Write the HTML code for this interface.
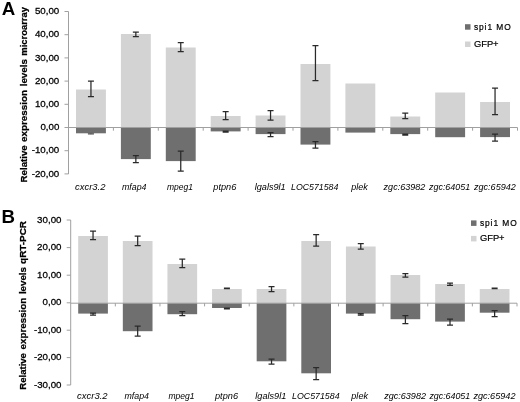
<!DOCTYPE html>
<html><head><meta charset="utf-8"><title>Relative expression levels</title>
<style>html,body{margin:0;padding:0;background:#fff}svg{display:block}text{font-family:"Liberation Sans",sans-serif}</style>
</head><body>
<svg width="520" height="402" viewBox="0 0 520 402">
<rect width="520" height="402" fill="#fff"/>
<g>
<rect x="76.00" y="89.50" width="29.9" height="38.00" fill="#d3d3d3"/>
<rect x="76.00" y="127.50" width="29.9" height="5.80" fill="#6f6f6f"/>
<rect x="120.90" y="34.00" width="29.9" height="93.50" fill="#d3d3d3"/>
<rect x="120.90" y="127.50" width="29.9" height="31.60" fill="#6f6f6f"/>
<rect x="165.80" y="47.50" width="29.9" height="80.00" fill="#d3d3d3"/>
<rect x="165.80" y="127.50" width="29.9" height="33.60" fill="#6f6f6f"/>
<rect x="210.70" y="116.00" width="29.9" height="11.50" fill="#d3d3d3"/>
<rect x="210.70" y="127.50" width="29.9" height="3.90" fill="#6f6f6f"/>
<rect x="255.60" y="115.50" width="29.9" height="12.00" fill="#d3d3d3"/>
<rect x="255.60" y="127.50" width="29.9" height="6.60" fill="#6f6f6f"/>
<rect x="300.50" y="64.00" width="29.9" height="63.50" fill="#d3d3d3"/>
<rect x="300.50" y="127.50" width="29.9" height="17.10" fill="#6f6f6f"/>
<rect x="345.40" y="83.50" width="29.9" height="44.00" fill="#d3d3d3"/>
<rect x="345.40" y="127.50" width="29.9" height="5.10" fill="#6f6f6f"/>
<rect x="390.30" y="116.50" width="29.9" height="11.00" fill="#d3d3d3"/>
<rect x="390.30" y="127.50" width="29.9" height="6.60" fill="#6f6f6f"/>
<rect x="435.20" y="92.50" width="29.9" height="35.00" fill="#d3d3d3"/>
<rect x="435.20" y="127.50" width="29.9" height="9.70" fill="#6f6f6f"/>
<rect x="480.10" y="102.00" width="29.9" height="25.50" fill="#d3d3d3"/>
<rect x="480.10" y="127.50" width="29.9" height="9.60" fill="#6f6f6f"/>
<path d="M68.5 11.5V174" stroke="#a0a0a0" stroke-width="1" fill="none"/>
<path d="M68.5 127.5H517.5" stroke="#a0a0a0" stroke-width="1" fill="none"/>
<path d="M64.5 11.5H68.5" stroke="#a0a0a0" stroke-width="1"/>
<text x="59.3" y="14.1" text-anchor="end" font-size="9.6" fill="#000" stroke="#000" stroke-width="0.26" textLength="24.4" lengthAdjust="spacingAndGlyphs">50,00</text>
<path d="M64.5 34.7H68.5" stroke="#a0a0a0" stroke-width="1"/>
<text x="59.3" y="37.300000000000004" text-anchor="end" font-size="9.6" fill="#000" stroke="#000" stroke-width="0.26" textLength="24.4" lengthAdjust="spacingAndGlyphs">40,00</text>
<path d="M64.5 57.9H68.5" stroke="#a0a0a0" stroke-width="1"/>
<text x="59.3" y="60.5" text-anchor="end" font-size="9.6" fill="#000" stroke="#000" stroke-width="0.26" textLength="24.4" lengthAdjust="spacingAndGlyphs">30,00</text>
<path d="M64.5 81.1H68.5" stroke="#a0a0a0" stroke-width="1"/>
<text x="59.3" y="83.69999999999999" text-anchor="end" font-size="9.6" fill="#000" stroke="#000" stroke-width="0.26" textLength="24.4" lengthAdjust="spacingAndGlyphs">20,00</text>
<path d="M64.5 104.3H68.5" stroke="#a0a0a0" stroke-width="1"/>
<text x="59.3" y="106.89999999999999" text-anchor="end" font-size="9.6" fill="#000" stroke="#000" stroke-width="0.26" textLength="24.4" lengthAdjust="spacingAndGlyphs">10,00</text>
<path d="M64.5 127.5H68.5" stroke="#a0a0a0" stroke-width="1"/>
<text x="59.3" y="130.1" text-anchor="end" font-size="9.6" fill="#000" stroke="#000" stroke-width="0.26" textLength="18.9" lengthAdjust="spacingAndGlyphs">0,00</text>
<path d="M64.5 150.7H68.5" stroke="#a0a0a0" stroke-width="1"/>
<text x="59.3" y="153.29999999999998" text-anchor="end" font-size="9.6" fill="#000" stroke="#000" stroke-width="0.26" textLength="27.6" lengthAdjust="spacingAndGlyphs">-10,00</text>
<path d="M64.5 173.9H68.5" stroke="#a0a0a0" stroke-width="1"/>
<text x="59.3" y="176.5" text-anchor="end" font-size="9.6" fill="#000" stroke="#000" stroke-width="0.26" textLength="27.6" lengthAdjust="spacingAndGlyphs">-20,00</text>
<path d="M113.40 127.5v3.2" stroke="#a0a0a0" stroke-width="1"/>
<path d="M158.30 127.5v3.2" stroke="#a0a0a0" stroke-width="1"/>
<path d="M203.20 127.5v3.2" stroke="#a0a0a0" stroke-width="1"/>
<path d="M248.10 127.5v3.2" stroke="#a0a0a0" stroke-width="1"/>
<path d="M293.00 127.5v3.2" stroke="#a0a0a0" stroke-width="1"/>
<path d="M337.90 127.5v3.2" stroke="#a0a0a0" stroke-width="1"/>
<path d="M382.80 127.5v3.2" stroke="#a0a0a0" stroke-width="1"/>
<path d="M427.70 127.5v3.2" stroke="#a0a0a0" stroke-width="1"/>
<path d="M472.60 127.5v3.2" stroke="#a0a0a0" stroke-width="1"/>
<path d="M517.50 127.5v3.2" stroke="#a0a0a0" stroke-width="1"/>
<path d="M90.95 81V96.5M87.95 81h6M87.95 96.5h6" stroke="#2a2a2a" stroke-width="1.25" fill="none"/>
<path d="M90.95 133.4V134.2M87.95 133.4h6M87.95 134.2h6" stroke="#444" stroke-width="0.7" fill="none"/>
<path d="M135.85 32V36.5M132.85 32h6M132.85 36.5h6" stroke="#2a2a2a" stroke-width="1.25" fill="none"/>
<path d="M135.85 155.5V162.5M132.85 155.5h6M132.85 162.5h6" stroke="#2a2a2a" stroke-width="1.25" fill="none"/>
<path d="M180.75 42.5V51.5M177.75 42.5h6M177.75 51.5h6" stroke="#2a2a2a" stroke-width="1.25" fill="none"/>
<path d="M180.75 151V171M177.75 151h6M177.75 171h6" stroke="#2a2a2a" stroke-width="1.25" fill="none"/>
<path d="M225.65 111.5V119.5M222.65 111.5h6M222.65 119.5h6" stroke="#2a2a2a" stroke-width="1.25" fill="none"/>
<path d="M225.65 131V132M222.65 131h6M222.65 132h6" stroke="#2a2a2a" stroke-width="1.25" fill="none"/>
<path d="M270.55 110.5V120M267.55 110.5h6M267.55 120h6" stroke="#2a2a2a" stroke-width="1.25" fill="none"/>
<path d="M270.55 132.5V136.5M267.55 132.5h6M267.55 136.5h6" stroke="#2a2a2a" stroke-width="1.25" fill="none"/>
<path d="M315.45 45.5V80.5M312.45 45.5h6M312.45 80.5h6" stroke="#2a2a2a" stroke-width="1.25" fill="none"/>
<path d="M315.45 141.5V148M312.45 141.5h6M312.45 148h6" stroke="#2a2a2a" stroke-width="1.25" fill="none"/>
<path d="M405.25 113.2V118.5M402.25 113.2h6M402.25 118.5h6" stroke="#2a2a2a" stroke-width="1.25" fill="none"/>
<path d="M405.25 134V135M402.25 134h6M402.25 135h6" stroke="#2a2a2a" stroke-width="1.25" fill="none"/>
<path d="M495.05 88V114.5M492.05 88h6M492.05 114.5h6" stroke="#2a2a2a" stroke-width="1.25" fill="none"/>
<path d="M495.05 134V141M492.05 134h6M492.05 141h6" stroke="#2a2a2a" stroke-width="1.25" fill="none"/>
<text x="75" y="190.4" font-size="9.3" font-style="italic" textLength="30.5" lengthAdjust="spacingAndGlyphs" fill="#000">cxcr3.2</text>
<text x="122" y="190.4" font-size="9.3" font-style="italic" textLength="24.5" lengthAdjust="spacingAndGlyphs" fill="#000">mfap4</text>
<text x="167" y="190.4" font-size="9.3" font-style="italic" textLength="26" lengthAdjust="spacingAndGlyphs" fill="#000">mpeg1</text>
<text x="213.3" y="190.4" font-size="9.3" font-style="italic" textLength="23.0" lengthAdjust="spacingAndGlyphs" fill="#000">ptpn6</text>
<text x="254.7" y="190.4" font-size="9.3" font-style="italic" textLength="31.0" lengthAdjust="spacingAndGlyphs" fill="#000">lgals9l1</text>
<text x="291" y="190.4" font-size="9.3" font-style="italic" textLength="47.39999999999998" lengthAdjust="spacingAndGlyphs" fill="#000">LOC571584</text>
<text x="351.3" y="190.4" font-size="9.3" font-style="italic" textLength="16.5" lengthAdjust="spacingAndGlyphs" fill="#000">plek</text>
<text x="383.6" y="190.4" font-size="9.3" font-style="italic" textLength="41.799999999999955" lengthAdjust="spacingAndGlyphs" fill="#000">zgc:63982</text>
<text x="429" y="190.4" font-size="9.3" font-style="italic" textLength="41.19999999999999" lengthAdjust="spacingAndGlyphs" fill="#000">zgc:64051</text>
<text x="474" y="190.4" font-size="9.3" font-style="italic" textLength="41.799999999999955" lengthAdjust="spacingAndGlyphs" fill="#000">zgc:65942</text>
<text transform="translate(26.5 182.4) rotate(-90)" font-size="9.7" font-weight="bold" stroke="#000" stroke-width="0.25" textLength="37.1" lengthAdjust="spacingAndGlyphs" fill="#000">Relative</text>
<text transform="translate(26.5 142.1) rotate(-90)" font-size="9.7" font-weight="bold" stroke="#000" stroke-width="0.25" textLength="52.2" lengthAdjust="spacingAndGlyphs" fill="#000">expression</text>
<text transform="translate(26.5 86.3) rotate(-90)" font-size="9.7" font-weight="bold" stroke="#000" stroke-width="0.25" textLength="27.1" lengthAdjust="spacingAndGlyphs" fill="#000">levels</text>
<text transform="translate(26.5 55.7) rotate(-90)" font-size="9.7" font-weight="bold" stroke="#000" stroke-width="0.25" textLength="48.7" lengthAdjust="spacingAndGlyphs" fill="#000">microarray</text>
<text x="1.7" y="14.5" font-size="18" font-weight="bold" fill="#000" textLength="13.5" lengthAdjust="spacingAndGlyphs">A</text>
<rect x="465" y="24.2" width="5.5" height="5.5" fill="#6f6f6f"/>
<rect x="465" y="41.5" width="5.5" height="5.5" fill="#d3d3d3"/>
<text x="473.9" y="29.799999999999997" font-size="8.4" textLength="36.8" lengthAdjust="spacing" fill="#000" stroke="#000" stroke-width="0.2">spi1 MO</text>
<text x="473.9" y="47.0" font-size="9.4" fill="#000" stroke="#000" stroke-width="0.2" textLength="24.7" lengthAdjust="spacingAndGlyphs">GFP+</text>
</g>
<g>
<rect x="78.20" y="236.00" width="29.7" height="67.20" fill="#d3d3d3"/>
<rect x="78.20" y="303.20" width="29.7" height="10.40" fill="#6f6f6f"/>
<rect x="122.82" y="241.00" width="29.7" height="62.20" fill="#d3d3d3"/>
<rect x="122.82" y="303.20" width="29.7" height="28.00" fill="#6f6f6f"/>
<rect x="167.44" y="264.00" width="29.7" height="39.20" fill="#d3d3d3"/>
<rect x="167.44" y="303.20" width="29.7" height="11.00" fill="#6f6f6f"/>
<rect x="212.06" y="289.00" width="29.7" height="14.20" fill="#d3d3d3"/>
<rect x="212.06" y="303.20" width="29.7" height="4.80" fill="#6f6f6f"/>
<rect x="256.68" y="289.00" width="29.7" height="14.20" fill="#d3d3d3"/>
<rect x="256.68" y="303.20" width="29.7" height="58.10" fill="#6f6f6f"/>
<rect x="301.30" y="241.00" width="29.7" height="62.20" fill="#d3d3d3"/>
<rect x="301.30" y="303.20" width="29.7" height="70.10" fill="#6f6f6f"/>
<rect x="345.92" y="246.50" width="29.7" height="56.70" fill="#d3d3d3"/>
<rect x="345.92" y="303.20" width="29.7" height="10.40" fill="#6f6f6f"/>
<rect x="390.54" y="275.00" width="29.7" height="28.20" fill="#d3d3d3"/>
<rect x="390.54" y="303.20" width="29.7" height="16.00" fill="#6f6f6f"/>
<rect x="435.16" y="284.00" width="29.7" height="19.20" fill="#d3d3d3"/>
<rect x="435.16" y="303.20" width="29.7" height="18.40" fill="#6f6f6f"/>
<rect x="479.78" y="289.00" width="29.7" height="14.20" fill="#d3d3d3"/>
<rect x="479.78" y="303.20" width="29.7" height="9.50" fill="#6f6f6f"/>
<path d="M70.7 220V385" stroke="#a0a0a0" stroke-width="1" fill="none"/>
<path d="M70.7 303.2H517" stroke="#a0a0a0" stroke-width="1" fill="none"/>
<path d="M66.7 220H70.7" stroke="#a0a0a0" stroke-width="1"/>
<text x="61.5" y="222.6" text-anchor="end" font-size="9.6" fill="#000" stroke="#000" stroke-width="0.26" textLength="24.4" lengthAdjust="spacingAndGlyphs">30,00</text>
<path d="M66.7 247.6H70.7" stroke="#a0a0a0" stroke-width="1"/>
<text x="61.5" y="250.2" text-anchor="end" font-size="9.6" fill="#000" stroke="#000" stroke-width="0.26" textLength="24.4" lengthAdjust="spacingAndGlyphs">20,00</text>
<path d="M66.7 275.2H70.7" stroke="#a0a0a0" stroke-width="1"/>
<text x="61.5" y="277.8" text-anchor="end" font-size="9.6" fill="#000" stroke="#000" stroke-width="0.26" textLength="24.4" lengthAdjust="spacingAndGlyphs">10,00</text>
<path d="M66.7 302.8H70.7" stroke="#a0a0a0" stroke-width="1"/>
<text x="61.5" y="305.40000000000003" text-anchor="end" font-size="9.6" fill="#000" stroke="#000" stroke-width="0.26" textLength="18.9" lengthAdjust="spacingAndGlyphs">0,00</text>
<path d="M66.7 330.2H70.7" stroke="#a0a0a0" stroke-width="1"/>
<text x="61.5" y="332.8" text-anchor="end" font-size="9.6" fill="#000" stroke="#000" stroke-width="0.26" textLength="27.6" lengthAdjust="spacingAndGlyphs">-10,00</text>
<path d="M66.7 357.6H70.7" stroke="#a0a0a0" stroke-width="1"/>
<text x="61.5" y="360.20000000000005" text-anchor="end" font-size="9.6" fill="#000" stroke="#000" stroke-width="0.26" textLength="27.6" lengthAdjust="spacingAndGlyphs">-20,00</text>
<path d="M66.7 385H70.7" stroke="#a0a0a0" stroke-width="1"/>
<text x="61.5" y="387.6" text-anchor="end" font-size="9.6" fill="#000" stroke="#000" stroke-width="0.26" textLength="27.6" lengthAdjust="spacingAndGlyphs">-30,00</text>
<path d="M115.33 303.2v3.2" stroke="#a0a0a0" stroke-width="1"/>
<path d="M159.96 303.2v3.2" stroke="#a0a0a0" stroke-width="1"/>
<path d="M204.59 303.2v3.2" stroke="#a0a0a0" stroke-width="1"/>
<path d="M249.22 303.2v3.2" stroke="#a0a0a0" stroke-width="1"/>
<path d="M293.85 303.2v3.2" stroke="#a0a0a0" stroke-width="1"/>
<path d="M338.48 303.2v3.2" stroke="#a0a0a0" stroke-width="1"/>
<path d="M383.11 303.2v3.2" stroke="#a0a0a0" stroke-width="1"/>
<path d="M427.74 303.2v3.2" stroke="#a0a0a0" stroke-width="1"/>
<path d="M472.37 303.2v3.2" stroke="#a0a0a0" stroke-width="1"/>
<path d="M517.00 303.2v3.2" stroke="#a0a0a0" stroke-width="1"/>
<path d="M93.05 231V239.5M90.05 231h6M90.05 239.5h6" stroke="#2a2a2a" stroke-width="1.25" fill="none"/>
<path d="M93.05 313V315M90.05 313h6M90.05 315h6" stroke="#2a2a2a" stroke-width="1.25" fill="none"/>
<path d="M137.67 236V245.5M134.67 236h6M134.67 245.5h6" stroke="#2a2a2a" stroke-width="1.25" fill="none"/>
<path d="M137.67 326V336M134.67 326h6M134.67 336h6" stroke="#2a2a2a" stroke-width="1.25" fill="none"/>
<path d="M182.29 259V267.5M179.29 259h6M179.29 267.5h6" stroke="#2a2a2a" stroke-width="1.25" fill="none"/>
<path d="M182.29 311.5V315.5M179.29 311.5h6M179.29 315.5h6" stroke="#2a2a2a" stroke-width="1.25" fill="none"/>
<path d="M226.91 288V288.6M223.91 288h6M223.91 288.6h6" stroke="#2a2a2a" stroke-width="1.25" fill="none"/>
<path d="M226.91 308.2V308.8M223.91 308.2h6M223.91 308.8h6" stroke="#2a2a2a" stroke-width="1.25" fill="none"/>
<path d="M271.53 286.5V291.5M268.53 286.5h6M268.53 291.5h6" stroke="#2a2a2a" stroke-width="1.25" fill="none"/>
<path d="M271.53 359V364M268.53 359h6M268.53 364h6" stroke="#2a2a2a" stroke-width="1.25" fill="none"/>
<path d="M316.15 234.5V246M313.15 234.5h6M313.15 246h6" stroke="#2a2a2a" stroke-width="1.25" fill="none"/>
<path d="M316.15 367.5V379.5M313.15 367.5h6M313.15 379.5h6" stroke="#2a2a2a" stroke-width="1.25" fill="none"/>
<path d="M360.77 243.5V249M357.77 243.5h6M357.77 249h6" stroke="#2a2a2a" stroke-width="1.25" fill="none"/>
<path d="M360.77 313.5V315M357.77 313.5h6M357.77 315h6" stroke="#2a2a2a" stroke-width="1.25" fill="none"/>
<path d="M405.39 273.5V277M402.39 273.5h6M402.39 277h6" stroke="#2a2a2a" stroke-width="1.25" fill="none"/>
<path d="M405.39 315.5V323.5M402.39 315.5h6M402.39 323.5h6" stroke="#2a2a2a" stroke-width="1.25" fill="none"/>
<path d="M450.01 283V285.3M447.01 283h6M447.01 285.3h6" stroke="#2a2a2a" stroke-width="1.25" fill="none"/>
<path d="M450.01 319V325M447.01 319h6M447.01 325h6" stroke="#2a2a2a" stroke-width="1.25" fill="none"/>
<path d="M494.63 288V288.6M491.63 288h6M491.63 288.6h6" stroke="#2a2a2a" stroke-width="1.25" fill="none"/>
<path d="M494.63 310.5V316.5M491.63 310.5h6M491.63 316.5h6" stroke="#2a2a2a" stroke-width="1.25" fill="none"/>
<text x="77" y="398.8" font-size="9.3" font-style="italic" textLength="30.599999999999994" lengthAdjust="spacingAndGlyphs" fill="#000">cxcr3.2</text>
<text x="124.5" y="398.8" font-size="9.3" font-style="italic" textLength="24.5" lengthAdjust="spacingAndGlyphs" fill="#000">mfap4</text>
<text x="168.5" y="398.8" font-size="9.3" font-style="italic" textLength="26.099999999999994" lengthAdjust="spacingAndGlyphs" fill="#000">mpeg1</text>
<text x="215" y="398.8" font-size="9.3" font-style="italic" textLength="23" lengthAdjust="spacingAndGlyphs" fill="#000">ptpn6</text>
<text x="255.3" y="398.8" font-size="9.3" font-style="italic" textLength="31.0" lengthAdjust="spacingAndGlyphs" fill="#000">lgals9l1</text>
<text x="292" y="398.8" font-size="9.3" font-style="italic" textLength="47.60000000000002" lengthAdjust="spacingAndGlyphs" fill="#000">LOC571584</text>
<text x="351.3" y="398.8" font-size="9.3" font-style="italic" textLength="16.69999999999999" lengthAdjust="spacingAndGlyphs" fill="#000">plek</text>
<text x="384.2" y="398.8" font-size="9.3" font-style="italic" textLength="41.80000000000001" lengthAdjust="spacingAndGlyphs" fill="#000">zgc:63982</text>
<text x="429.4" y="398.8" font-size="9.3" font-style="italic" textLength="40.80000000000001" lengthAdjust="spacingAndGlyphs" fill="#000">zgc:64051</text>
<text x="473.4" y="398.8" font-size="9.3" font-style="italic" textLength="42.10000000000002" lengthAdjust="spacingAndGlyphs" fill="#000">zgc:65942</text>
<text transform="translate(26.4 389.7) rotate(-90)" font-size="9.7" font-weight="bold" stroke="#000" stroke-width="0.25" textLength="36.6" lengthAdjust="spacingAndGlyphs" fill="#000">Relative</text>
<text transform="translate(26.4 349.4) rotate(-90)" font-size="9.7" font-weight="bold" stroke="#000" stroke-width="0.25" textLength="51.7" lengthAdjust="spacingAndGlyphs" fill="#000">expression</text>
<text transform="translate(26.4 294.1) rotate(-90)" font-size="9.7" font-weight="bold" stroke="#000" stroke-width="0.25" textLength="27.1" lengthAdjust="spacingAndGlyphs" fill="#000">levels</text>
<text transform="translate(26.4 263.9) rotate(-90)" font-size="9.7" font-weight="bold" stroke="#000" stroke-width="0.25" textLength="42.9" lengthAdjust="spacingAndGlyphs" fill="#000">qRT-PCR</text>
<text x="1.6" y="223.4" font-size="18" font-weight="bold" fill="#000" textLength="13.5" lengthAdjust="spacingAndGlyphs">B</text>
<rect x="471" y="220.4" width="5.5" height="5.5" fill="#6f6f6f"/>
<rect x="471" y="235.9" width="5.5" height="5.5" fill="#d3d3d3"/>
<text x="479.9" y="226.0" font-size="8.4" textLength="36.8" lengthAdjust="spacing" fill="#000" stroke="#000" stroke-width="0.2">spi1 MO</text>
<text x="479.9" y="241.4" font-size="9.4" fill="#000" stroke="#000" stroke-width="0.2" textLength="24.7" lengthAdjust="spacingAndGlyphs">GFP+</text>
</g>
</svg>
</body></html>
